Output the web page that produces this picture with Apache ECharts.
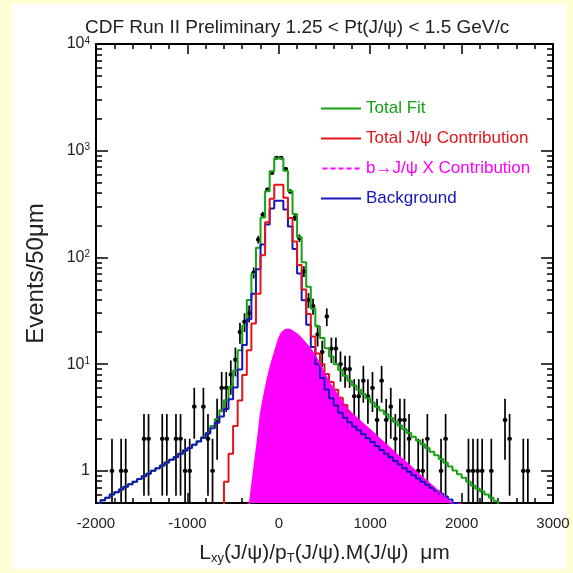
<!DOCTYPE html>
<html>
<head>
<meta charset="utf-8">
<script src="https://cdn.jsdelivr.net/npm/echarts@6/dist/echarts.min.js"></script>
<style>
html,body{margin:0;padding:0;background:#ffffd4;}
#wrap{position:relative;width:573px;height:573px;background:#ffffd4;overflow:hidden;}
#paper{position:absolute;left:12px;top:4px;width:554px;height:565px;background:#fff;}
#chart{position:absolute;left:0;top:0;width:573px;height:573px;}
</style>
</head>
<body>
<div id="wrap"><div id="paper"></div><div id="chart"></div></div>
<script>
// ---- data ----
const titleText = 'CDF Run II Preliminary 1.25 < Pt(J/\u03c8) < 1.5 GeV/c';
const xTickLabels = [-2000, -1000, 0, 1000, 2000, 3000];
const yMajorTicks = [1, 10, 100, 1000, 10000];

// Total fit (green), bin centres
const fitX = [-1975,-1925,-1875,-1825,-1775,-1725,-1675,-1625,-1575,-1525,-1475,-1425,-1375,-1325,-1275,-1225,-1175,-1125,-1075,-1025,-975,-925,-875,-825,-775,-725,-675,-625,-575,-525,-475,-425,-375,-325,-275,-225,-175,-125,-75,-25,25,75,125,175,225,275,325,375,425,475,525,575,625,675,725,775,825,875,925,975,1025,1075,1125,1175,1225,1275,1325,1375,1425,1475,1525,1575,1625,1675,1725,1775,1825,1875,1925,1975,2025,2075,2125,2175,2225,2275,2325,2375,2425,2475];
const fitY = [0.50,0.53,0.56,0.60,0.63,0.67,0.71,0.75,0.79,0.84,0.89,0.94,1.0,1.06,1.12,1.20,1.27,1.35,1.45,1.55,1.64,1.76,1.89,2.07,2.28,2.63,3.05,3.7,4.6,6.1,8.7,13.5,23,40,70,123,237,418,643,850,850,650,420,255,155,90,53,33,22.6,17.6,14.1,11.8,10.0,8.8,7.8,7.0,6.3,5.75,5.25,4.79,4.37,3.98,3.67,3.39,3.13,2.88,2.66,2.45,2.26,2.09,1.93,1.78,1.64,1.51,1.40,1.29,1.19,1.10,1.01,0.93,0.86,0.79,0.73,0.68,0.64,0.60,0.56,0.52,0.48,0.45];

// Background (blue)
const bkgX = [-1975,-1925,-1875,-1825,-1775,-1725,-1675,-1625,-1575,-1525,-1475,-1425,-1375,-1325,-1275,-1225,-1175,-1125,-1075,-1025,-975,-925,-875,-825,-775,-725,-675,-625,-575,-525,-475,-425,-375,-325,-275,-225,-175,-125,-75,-25,25,75,125,175,225,275,325,375,425,475,525,575,625,675,725,775,825,875,925,975,1025,1075,1125,1175,1225,1275,1325,1375,1425,1475,1525,1575,1625,1675,1725,1775,1825,1875,1925,1975];
const bkgY = [0.50,0.53,0.56,0.60,0.63,0.67,0.71,0.75,0.79,0.84,0.89,0.94,1.0,1.06,1.12,1.20,1.27,1.35,1.45,1.55,1.64,1.76,1.88,2.04,2.24,2.51,2.82,3.24,3.80,4.68,6.03,8.9,15.1,26.3,45.7,77.6,132,204,288,339,339,282,195,120,70.8,39.8,23.4,14.5,10.0,7.4,5.8,4.8,4.1,3.5,3.15,2.85,2.6,2.4,2.2,2.02,1.86,1.71,1.57,1.45,1.34,1.24,1.15,1.06,0.98,0.91,0.85,0.79,0.74,0.69,0.65,0.61,0.575,0.54,0.50,0.46];

// Total J/psi contribution (red)
const jpsiX = [-675,-625,-575,-525,-475,-425,-375,-325,-275,-225,-175,-125,-75,-25,25,75,125,175,225,275,325,375,425,475,525,575,625,675,725,775];
const jpsiY = [0.22,0.42,0.79,1.45,2.63,4.57,7.9,13.5,24,45.7,105,214,355,479,479,363,234,141,85,50,29.5,18.2,12.6,10.0,8.1,6.8,5.75,4.85,4.15,3.62];

// b -> J/psi X contribution (magenta fill)
const bX = [-345,-320,-300,-275,-250,-225,-200,-175,-150,-125,-100,-75,-50,-25,0,25,50,75,100,125,150,200,250,300,350,400,450,500,550,600,650,700,750,800,900,1000,1100,1200,1300,1400,1500,1600,1700,1800,1900,2000];
const bY = [0.32,0.49,0.68,1.0,1.48,2.19,3.39,4.47,5.75,7.24,8.91,10.7,12.6,14.8,17.4,19.3,20.4,21.0,21.2,21.0,20.4,19.1,17.4,15.5,13.8,11.9,10.0,8.2,6.8,5.8,5.0,4.37,3.80,3.44,2.88,2.42,2.02,1.69,1.41,1.19,0.99,0.83,0.70,0.58,0.49,0.41];

// Data points: bin centre and counts
const dataX = [-1825,-1725,-1675,-1475,-1425,-1275,-1225,-1125,-1075,-1025,-975,-925,-825,-775,-725,-675,-625,-575,-525,-475,-425,-375,-325,-275,-225,-175,-125,-75,-25,25,75,125,175,225,275,325,375,425,475,525,575,625,675,725,775,825,875,925,975,1025,1075,1125,1175,1225,1275,1325,1375,1425,1525,1575,1625,1775,1825,2075,2125,2175,2225,2325,2475,2525,2675,2725];
const dataN = [1,1,1,2,2,2,2,2,2,1,1,4,4,2,1,3,6,6,8,11,20,25,30,72,147,252,432,620,860,860,675,415,235,152,74,40,35,19,13,28,14,14,10,9,9,5,5,7,5,6,3,7,3,4,2,3,3,2,1,1,2,1,2,1,1,1,1,1,3,2,1,1];
const binHalf = 25;

const seriesNames = ['Total Fit', 'Total J/\u03c8 Contribution', 'b\u2192J/\u03c8 X Contribution', 'Background'];
const colors = {fit:'#13a313', jpsi:'#e5141a', b:'#ff00ff', bkg:'#1616b8'};

const zip = (xs, ys) => xs.map((x, i) => [x, ys[i]]);

const minorTicks = [];
[0.1, 1, 10, 100, 1000].forEach(d => { for (let k = 2; k <= 9; k++) minorTicks.push(+(k * d).toPrecision(3)); });

const FONT = 'Liberation Sans, Arial, Helvetica, sans-serif';
const chart = echarts.init(document.getElementById('chart'), null, {renderer:'canvas'});

const yLabelFmt = v => {
  if (Math.abs(v - 1) < 1e-9) return '{b|1}';
  return '{b|10}{s|' + Math.round(Math.log10(v)) + '}';
};

function yAxisBase(pos, major, labels) {
  return {
    type:'log', logBase:10, min:0.5, max:10000, position:pos, gridIndex:0,
    axisLine:{show: major, onZero:false, lineStyle:{color:'#000', width:2}},
    axisTick:{show:true, inside:true, length: major ? 12 : 6, customValues: major ? yMajorTicks : minorTicks,
      lineStyle:{color:'#000', width:1.5}},
    axisLabel: labels ? {show:true, customValues: yMajorTicks, formatter: yLabelFmt, margin:6, fontFamily:FONT,
      rich:{ b:{fontSize:16, color:'#222', lineHeight:16, verticalAlign:'bottom', fontFamily:FONT},
             s:{fontSize:10, color:'#222', lineHeight:10, verticalAlign:'top', fontFamily:FONT} } } : {show:false},
    splitLine:{show:false}, minorTick:{show:false}, minorSplitLine:{show:false}
  };
}
const yAxes = [yAxisBase('left', true, true), yAxisBase('left', false, false), yAxisBase('right', true, false), yAxisBase('right', false, false)];
yAxes[0].name = 'Events/50\u03bcm';
yAxes[0].nameLocation = 'middle';
yAxes[0].nameGap = 48;
yAxes[0].nameTextStyle = {fontSize:24, color:'#222', fontFamily:FONT};

function xAxisBase(pos, labels) {
  return {
    type:'value', min:xTickLabels[0], max:xTickLabels[xTickLabels.length-1], interval:1000, position:pos, gridIndex:0,
    axisLine:{show:true, onZero:false, lineStyle:{color:'#000', width:2}},
    axisTick:{show:true, inside:true, length:10, lineStyle:{color:'#000', width:1.5}},
    minorTick:{show:true, splitNumber:5, length:5, lineStyle:{color:'#000', width:1.5}},
    axisLabel: labels ? {show:true, fontSize:15, color:'#222', margin:13, fontFamily:FONT, formatter: v => String(v)} : {show:false},
    splitLine:{show:false}, minorSplitLine:{show:false}
  };
}
const xAxes = [xAxisBase('bottom', true), xAxisBase('top', false)];
xAxes[0].name = '{n|L}{sub|xy}{n|(J/\u03c8)/p}{sub|T}{n|(J/\u03c8).M(J/\u03c8)  \u03bcm}';
xAxes[0].nameLocation = 'middle';
xAxes[0].nameGap = 40;
xAxes[0].nameTextStyle = {fontFamily:FONT, color:'#222', rich:{
  n:{fontSize:21, color:'#222', lineHeight:22, verticalAlign:'top', fontFamily:FONT},
  sub:{fontSize:13, color:'#222', lineHeight:13, verticalAlign:'bottom', fontFamily:FONT}}};

const lineSeries = (name, xs, ys, color, step) => ({
  name, type:'line', xAxisIndex:0, yAxisIndex:0, data: zip(xs, ys), step: step ? 'middle' : false,
  symbol:'none', showSymbol:false, clip:true, smooth:false,
  lineStyle:{color, width:2}, itemStyle:{color}, emphasis:{disabled:true}, animation:false
});

const solidIcon = 'path://M0,0H40V2H0Z';
const dashIcon = 'path://M0,0H5V2H0Z M8,0H13V2H8Z M16,0H21V2H16Z M24,0H29V2H24Z M32,0H37V2H32Z';

const option = {
  animation:false,
  backgroundColor:'transparent',
  textStyle:{fontFamily:FONT},
  title:{text:titleText, left:80, top:13, textStyle:{fontSize:19, fontWeight:'normal', color:'#222', fontFamily:FONT}},
  grid:{left:96, right:20, top:44, bottom:70, containLabel:false},
  legend:{
    left:316, top:95, orient:'vertical', itemWidth:40, itemHeight:2, itemGap:13, selectedMode:false,
    textStyle:{fontSize:17, fontFamily:FONT},
    data:[
      {name:seriesNames[0], icon:solidIcon, textStyle:{color:colors.fit}},
      {name:seriesNames[1], icon:solidIcon, textStyle:{color:colors.jpsi}},
      {name:seriesNames[2], icon:dashIcon, textStyle:{color:colors.b}},
      {name:seriesNames[3], icon:solidIcon, textStyle:{color:colors.bkg}}
    ]
  },
  xAxis: xAxes,
  yAxis: yAxes,
  series:[
    lineSeries(seriesNames[0], fitX, fitY, colors.fit, true),
    lineSeries(seriesNames[3], bkgX, bkgY, colors.bkg, true),
    lineSeries(seriesNames[1], jpsiX, jpsiY, colors.jpsi, true),
    Object.assign(lineSeries(seriesNames[2], bX, bY, colors.b, false), {
      areaStyle:{color:colors.b, opacity:1, origin:'start'}, lineStyle:{color:colors.b, width:1.5}
    }),
    {
      name:'data', type:'custom', xAxisIndex:0, yAxisIndex:0, clip:true, animation:false,
      data: zip(dataX, dataN),
      renderItem(params, api){
        const x = api.value(0), n = api.value(1), e = Math.sqrt(n);
        const c = api.coord([x, n]);
        const lo = api.coord([x, Math.max(n - e, 0.3)]);
        const hi = api.coord([x, n + e]);
        const l = api.coord([x - binHalf, n]);
        const r = api.coord([x + binHalf, n]);
        const st = {stroke:'#000', lineWidth:1.7};
        return {type:'group', children:[
          {type:'line', shape:{x1:c[0], y1:lo[1], x2:c[0], y2:hi[1]}, style:st},
          {type:'line', shape:{x1:l[0], y1:c[1], x2:r[0], y2:c[1]}, style:st},
          {type:'rect', shape:{x:c[0]-1.8, y:c[1]-1.8, width:3.6, height:3.6}, style:{fill:'#000'}}
        ]};
      }
    }
  ]
};
chart.setOption(option);
</script>
</body>
</html>
